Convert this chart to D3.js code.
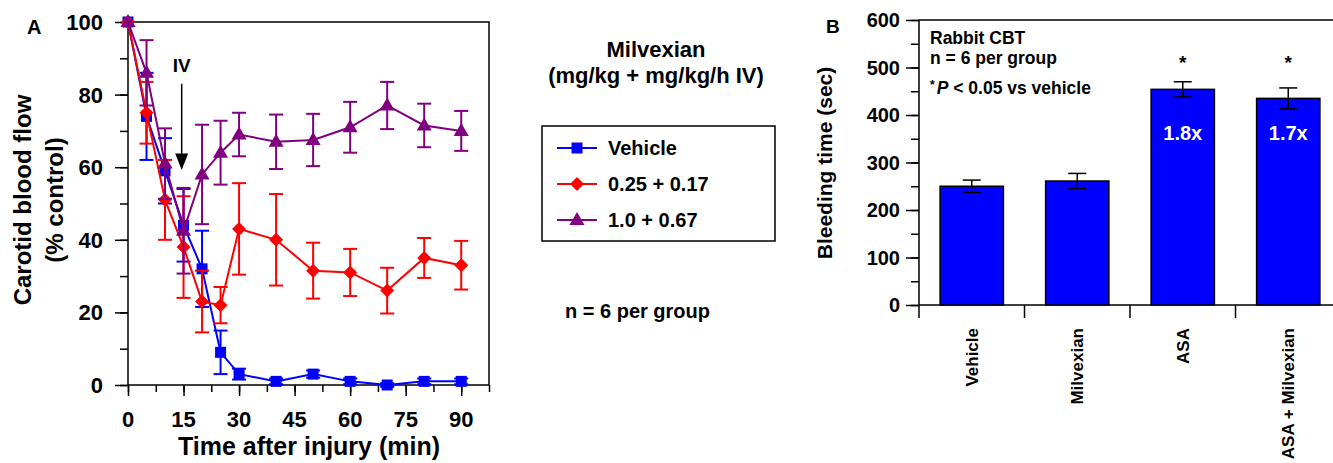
<!DOCTYPE html>
<html>
<head>
<meta charset="utf-8">
<script src="https://cdn.jsdelivr.net/npm/d3@7"></script>
<style>
body { margin: 0; background: #fff; }
svg text { font-family: "Liberation Sans", Arial, sans-serif; font-weight: bold; fill: #000; }
</style>
</head>
<body>
<svg id="chart" width="1333" height="463"></svg>
<script>
// ---- Panel A: carotid blood flow over time ----
const times = [0, 5, 10, 15, 20, 25, 30, 40, 50, 60, 70, 80, 90];
const vehicleMean = [100, 74, 59, 44, 32, 9, 3, 1, 3, 1, 0, 1, 1];
const vehicleErr = [0, 12, 9, 10, 10.5, 6, 1.5, 0.8, 1, 0.8, 0.5, 0.8, 0.8];
const lowDoseMean = [100, 75, 51, 38, 23, 22, 43, 40, 31.5, 31, 26, 35, 33];
const lowDoseErr = [0, 8.5, 11, 14, 8.5, 5, 12.6, 12.6, 7.7, 6.5, 6.3, 5.5, 6.7];
const highDoseMean = [100, 86, 61, 42.5, 58, 64, 69, 67, 67.5, 71, 77, 71.5, 70];
const highDoseErr = [0, 9, 9.7, 11.8, 13.7, 8.8, 6, 7.5, 7.2, 7, 6.5, 6, 5.5];
const seriesNames = ['Vehicle', '0.25 + 0.17', '1.0 + 0.67'];
const xTicksA = [0, 15, 30, 45, 60, 75, 90];
const yTicksA = [0, 20, 40, 60, 80, 100];
const ivTime = 14.5; // infusion start annotation

// ---- Panel B: bleeding time ----
const groups = ['Vehicle', 'Milvexian', 'ASA', 'ASA + Milvexian'];
const bleedMean = [250, 261, 454, 435];
const bleedErr = [13, 16, 16, 22];
const foldText = ['', '', '1.8x', '1.7x'];
const significant = [false, false, true, true];
const yTicksB = [0, 100, 200, 300, 400, 500, 600];

const series = [
    { name: seriesNames[0], mean: vehicleMean, err: vehicleErr, color: '#0000ff', shape: 'square' },
    { name: seriesNames[1], mean: lowDoseMean, err: lowDoseErr, color: '#ff0000', shape: 'diamond' },
    { name: seriesNames[2], mean: highDoseMean, err: highDoseErr, color: '#800080', shape: 'triangle' }
];

const svg = d3.select('#chart');

const markerPath = shape => {
    if (shape === 'square') return 'M-5.5,-5.5H5.5V5.5H-5.5Z';
    if (shape === 'diamond') return 'M0,-7L7,0L0,7L-7,0Z';
    return 'M0,-8L7.5,5L-7.5,5Z';
};

// ================= Panel A =================
const xA = d3.scaleLinear().domain([0, 97.5]).range([128, 489]);
const yA = d3.scaleLinear().domain([0, 100]).range([385, 22]);

const gA = svg.append('g');

// minor + major ticks
gA.append('g').attr('transform', 'translate(128,0)')
    .call(d3.axisLeft(yA).tickValues(d3.range(0, 101, 10)).tickSize(8).tickFormat('').tickSizeOuter(0));
gA.append('g').attr('transform', 'translate(128,0)')
    .call(d3.axisLeft(yA).tickValues(yTicksA).tickSize(13).tickFormat('').tickSizeOuter(0));
gA.append('g').attr('transform', 'translate(0,385)')
    .call(d3.axisBottom(xA).tickValues(d3.range(0, 98, 7.5)).tickSize(7).tickFormat('').tickSizeOuter(0));
gA.append('g').attr('transform', 'translate(0,385)')
    .call(d3.axisBottom(xA).tickValues(xTicksA).tickSize(11).tickFormat('').tickSizeOuter(0));
gA.selectAll('.domain').remove();
gA.selectAll('.tick line').attr('stroke', '#000').attr('stroke-width', 1.5);

gA.append('rect')
    .attr('x', xA(0)).attr('y', yA(100))
    .attr('width', xA(97.5) - xA(0)).attr('height', yA(0) - yA(100))
    .attr('fill', 'none').attr('stroke', '#000').attr('stroke-width', 1.5);

gA.selectAll('.ylabA').data(yTicksA).join('text')
    .attr('x', 103).attr('y', d => yA(d)).attr('dy', '0.36em')
    .attr('text-anchor', 'end').attr('font-size', 22).text(d => d);
gA.selectAll('.xlabA').data(xTicksA).join('text')
    .attr('x', d => xA(d)).attr('y', 427)
    .attr('text-anchor', 'middle').attr('font-size', 22).text(d => d);

gA.append('text').attr('x', 309).attr('y', 455).attr('text-anchor', 'middle')
    .attr('font-size', 25).text('Time after injury (min)');
gA.append('text').attr('transform', 'translate(23,200) rotate(-90)').attr('dy', '0.35em')
    .attr('text-anchor', 'middle').attr('font-size', 24).text('Carotid blood flow');
gA.append('text').attr('transform', 'translate(55,200) rotate(-90)').attr('dy', '0.35em')
    .attr('text-anchor', 'middle').attr('font-size', 24).text('(% control)');
gA.append('text').attr('x', 27).attr('y', 34).attr('font-size', 20).text('A');

// series
const lineA = d3.line().x((d, i) => xA(times[i])).y(d => yA(d));
series.forEach(s => {
    const g = gA.append('g');
    const pts = times.map((t, i) => ({ t, m: s.mean[i], e: s.err[i] })).filter(p => p.e > 0);
    g.selectAll('.eb').data(pts).join('line')
        .attr('x1', d => xA(d.t)).attr('x2', d => xA(d.t))
        .attr('y1', d => yA(d.m - d.e)).attr('y2', d => yA(d.m + d.e))
        .attr('stroke', s.color).attr('stroke-width', 2);
    [1, -1].forEach(sign => {
        g.selectAll('.cap' + sign).data(pts).join('line')
            .attr('x1', d => xA(d.t) - 7).attr('x2', d => xA(d.t) + 7)
            .attr('y1', d => yA(d.m + sign * d.e)).attr('y2', d => yA(d.m + sign * d.e))
            .attr('stroke', s.color).attr('stroke-width', 2);
    });
    g.append('path').attr('d', lineA(s.mean)).attr('fill', 'none')
        .attr('stroke', s.color).attr('stroke-width', 2);
    g.selectAll('.mk').data(s.mean).join('path')
        .attr('transform', (d, i) => `translate(${xA(times[i])},${yA(d)})`)
        .attr('d', markerPath(s.shape)).attr('fill', s.color);
});

// IV arrow
gA.append('text').attr('x', xA(ivTime)).attr('y', yA(86.3)).attr('text-anchor', 'middle')
    .attr('font-size', 19).text('IV');
gA.append('line').attr('x1', xA(ivTime)).attr('x2', xA(ivTime))
    .attr('y1', yA(83)).attr('y2', yA(63)).attr('stroke', '#000').attr('stroke-width', 1.5);
gA.append('path')
    .attr('d', `M${xA(ivTime) - 6.5},${yA(63.8)}L${xA(ivTime) + 6.5},${yA(63.8)}L${xA(ivTime)},${yA(59.2)}Z`)
    .attr('fill', '#000');

// legend
const leg = svg.append('g');
leg.append('text').attr('x', 656).attr('y', 57).attr('text-anchor', 'middle').attr('font-size', 22).text('Milvexian');
leg.append('text').attr('x', 656).attr('y', 83).attr('text-anchor', 'middle').attr('font-size', 22).text('(mg/kg + mg/kg/h IV)');
leg.append('rect').attr('x', 542).attr('y', 126).attr('width', 233).attr('height', 115)
    .attr('fill', 'none').attr('stroke', '#000').attr('stroke-width', 1.5);
series.forEach((s, i) => {
    const cy = 148 + i * 36;
    leg.append('line').attr('x1', 557).attr('x2', 597).attr('y1', cy).attr('y2', cy)
        .attr('stroke', s.color).attr('stroke-width', 2);
    leg.append('path').attr('transform', `translate(577,${cy})`).attr('d', markerPath(s.shape)).attr('fill', s.color);
    leg.append('text').attr('x', 608).attr('y', cy + 7).attr('font-size', 20).text(s.name);
});
leg.append('text').attr('x', 565).attr('y', 318).attr('font-size', 20).text('n = 6 per group');

// ================= Panel B =================
const yB = d3.scaleLinear().domain([0, 600]).range([305, 20]);
const xB = d3.scaleBand().domain(groups).range([919, 1341]).paddingInner(0.4).paddingOuter(0.2);
const gB = svg.append('g');

gB.append('g').attr('transform', 'translate(919,0)')
    .call(d3.axisLeft(yB).tickValues(d3.range(0, 601, 50)).tickSize(8).tickFormat('').tickSizeOuter(0));
gB.append('g').attr('transform', 'translate(919,0)')
    .call(d3.axisLeft(yB).tickValues(yTicksB).tickSize(13).tickFormat('').tickSizeOuter(0));
gB.selectAll('.domain').remove();
gB.selectAll('.tick line').attr('stroke', '#000').attr('stroke-width', 1.5);

const edgeOffset = (xB.step() - xB.bandwidth()) / 2;
const bounds = groups.map(g => xB(g) - edgeOffset);
gB.selectAll('.ctick').data(bounds).join('line')
    .attr('x1', d => d).attr('x2', d => d).attr('y1', yB(0)).attr('y2', yB(0) + 13)
    .attr('stroke', '#000').attr('stroke-width', 1.5);

// frame (right side runs off the picture)
gB.append('path')
    .attr('d', `M1345,${yB(600)}H919V${yB(0)}H1345`)
    .attr('fill', 'none').attr('stroke', '#000').attr('stroke-width', 1.5);

gB.selectAll('.bar').data(groups).join('rect')
    .attr('x', d => xB(d)).attr('width', xB.bandwidth())
    .attr('y', (d, i) => yB(bleedMean[i])).attr('height', (d, i) => yB(0) - yB(bleedMean[i]))
    .attr('fill', '#0000ff').attr('stroke', '#000').attr('stroke-width', 1.5);

const cx = d => xB(d) + xB.bandwidth() / 2;
gB.selectAll('.beb').data(groups).join('line')
    .attr('x1', cx).attr('x2', cx)
    .attr('y1', (d, i) => yB(bleedMean[i] - bleedErr[i])).attr('y2', (d, i) => yB(bleedMean[i] + bleedErr[i]))
    .attr('stroke', '#000').attr('stroke-width', 1.5);
[1, -1].forEach(sign => {
    gB.selectAll('.bcap' + sign).data(groups).join('line')
        .attr('x1', d => cx(d) - 9).attr('x2', d => cx(d) + 9)
        .attr('y1', (d, i) => yB(bleedMean[i] + sign * bleedErr[i]))
        .attr('y2', (d, i) => yB(bleedMean[i] + sign * bleedErr[i]))
        .attr('stroke', '#000').attr('stroke-width', 1.5);
});

gB.selectAll('.fold').data(groups).join('text')
    .attr('x', cx).attr('y', yB(347)).attr('text-anchor', 'middle')
    .attr('font-size', 20).style('fill', '#fff').text((d, i) => foldText[i]);
gB.selectAll('.star').data(groups.filter((d, i) => significant[i])).join('text')
    .attr('x', cx).attr('y', yB(520) + 11).attr('text-anchor', 'middle')
    .attr('font-size', 19).text('*');

gB.selectAll('.ylabB').data(yTicksB).join('text')
    .attr('x', 900).attr('y', d => yB(d)).attr('dy', '0.36em')
    .attr('text-anchor', 'end').attr('font-size', 20).text(d => d);
gB.selectAll('.xlabB').data(groups).join('text')
    .attr('transform', d => `translate(${cx(d)},328) rotate(-90)`).attr('dy', '0.35em')
    .attr('text-anchor', 'end').attr('font-size', 17).text(d => d);

gB.append('text').attr('transform', 'translate(825,163) rotate(-90)').attr('dy', '0.35em')
    .attr('text-anchor', 'middle').attr('font-size', 21).text('Bleeding time (sec)');
gB.append('text').attr('x', 826).attr('y', 33).attr('font-size', 19).text('B');

gB.append('text').attr('x', 930).attr('y', 44).attr('font-size', 17.5).text('Rabbit CBT');
gB.append('text').attr('x', 930).attr('y', 64).attr('font-size', 17.5).text('n = 6 per group');
const pNote = gB.append('text').attr('x', 930).attr('y', 94).attr('font-size', 17.5);
pNote.append('tspan').attr('font-size', 12).attr('dy', -5).text('*');
pNote.append('tspan').attr('font-style', 'italic').attr('dy', 5).attr('dx', 2).text('P');
pNote.append('tspan').text(' < 0.05 vs vehicle');
</script>
</body>
</html>
